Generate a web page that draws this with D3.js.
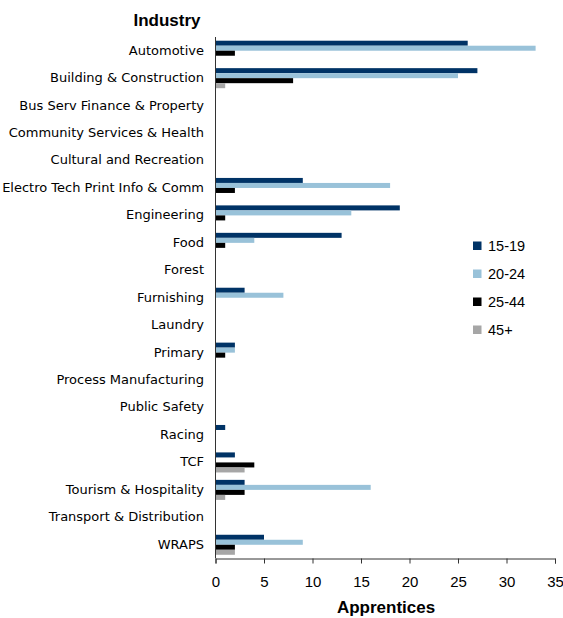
<!DOCTYPE html>
<html>
<head>
<meta charset="utf-8">
<script src="https://cdn.jsdelivr.net/npm/d3@7/dist/d3.min.js"></script>
<style>
  html, body { margin: 0; padding: 0; background: #fff; }
  svg { display: block; font-family: "Liberation Sans", Arial, sans-serif; }
</style>
</head>
<body>
<div id="chart"></div>
<script>
// Apprentices by industry and age group
const industries = [
  "Automotive", "Building & Construction", "Bus Serv Finance & Property",
  "Community Services & Health", "Cultural and Recreation",
  "Electro Tech Print Info & Comm", "Engineering", "Food", "Forest",
  "Furnishing", "Laundry", "Primary", "Process Manufacturing",
  "Public Safety", "Racing", "TCF", "Tourism & Hospitality",
  "Transport & Distribution", "WRAPS"
];
const ageGroups = ["15-19", "20-24", "25-44", "45+"];
const age15to19 = [26, 27, 0, 0, 0, 9, 19, 13, 0, 3, 0, 2, 0, 0, 1, 2, 3, 0, 5];
const age20to24 = [33, 25, 0, 0, 0, 18, 14, 4, 0, 7, 0, 2, 0, 0, 0, 0, 16, 0, 9];
const age25to44 = [2, 8, 0, 0, 0, 2, 1, 1, 0, 0, 0, 1, 0, 0, 0, 4, 3, 0, 2];
const age45plus = [0, 1, 0, 0, 0, 0, 0, 0, 0, 0, 0, 0, 0, 0, 0, 3, 1, 0, 2];
const xTicks = [0, 5, 10, 15, 20, 25, 30, 35];
const colors = ["#003366", "#99c2d9", "#000000", "#a6a6a6"];

const series = [age15to19, age20to24, age25to44, age45plus];

const width = 563, height = 618;
const margin = { top: 37, right: 8, bottom: 60, left: 215 };

const svg = d3.select("#chart").append("svg")
  .attr("width", width).attr("height", height);

const x = d3.scaleLinear().domain([0, 35]).range([margin.left + 0.5, 555]);
const y = d3.scaleBand().domain(industries)
  .range([margin.top, 558.5]).paddingInner(0.27).paddingOuter(0.135);
const ySub = d3.scaleBand().domain(ageGroups).range([0, y.bandwidth()]);

// bars
const groups = svg.append("g").selectAll("g")
  .data(industries).join("g")
  .attr("transform", d => `translate(0,${y(d)})`);

groups.selectAll("rect")
  .data((d, i) => ageGroups.map((a, s) => ({ age: a, s, v: series[s][i] })))
  .join("rect")
  .attr("x", x(0))
  .attr("y", d => ySub(d.age))
  .attr("width", d => x(d.v) - x(0))
  .attr("height", ySub.bandwidth())
  .attr("fill", d => colors[d.s]);

// x axis
const xAxis = svg.append("g")
  .attr("transform", `translate(0,558.5)`)
  .call(d3.axisBottom(x).tickValues(xTicks).tickSize(5).tickPadding(13).tickFormat(d3.format("d")));
xAxis.select(".domain").attr("stroke", "#333");
xAxis.selectAll(".tick line").attr("stroke", "#333");
xAxis.selectAll(".tick text").attr("font-size", 15).attr("fill", "#000")
  .attr("font-family", "'Liberation Sans', Arial, sans-serif");

// y axis line and category labels
svg.append("line")
  .attr("x1", x(0)).attr("x2", x(0))
  .attr("y1", margin.top).attr("y2", 558.5)
  .attr("stroke", "#333");

svg.append("g").selectAll("text")
  .data(industries).join("text")
  .attr("x", 204)
  .attr("y", d => y(d) + y.bandwidth() / 2)
  .attr("dy", "0.3em")
  .attr("text-anchor", "end")
  .attr("font-family", "'DejaVu Sans', sans-serif")
  .attr("font-size", 13)
  .attr("fill", "#000")
  .text(d => d);

// axis titles
svg.append("text")
  .attr("x", 167).attr("y", 26)
  .attr("text-anchor", "middle")
  .attr("font-size", 17).attr("font-weight", "bold")
  .text("Industry");

svg.append("text")
  .attr("x", 386).attr("y", 613)
  .attr("text-anchor", "middle")
  .attr("font-size", 17).attr("font-weight", "bold")
  .text("Apprentices");

// legend
const legend = svg.append("g").selectAll("g")
  .data(ageGroups).join("g")
  .attr("transform", (d, i) => `translate(473,${241.5 + i * 28})`);
legend.append("rect")
  .attr("width", 8.5).attr("height", 8.5)
  .attr("fill", (d, i) => colors[i]);
legend.append("text")
  .attr("x", 15).attr("y", 4.5).attr("dy", "0.35em")
  .attr("font-size", 14.5)
  .text(d => d);
</script>
</body>
</html>
